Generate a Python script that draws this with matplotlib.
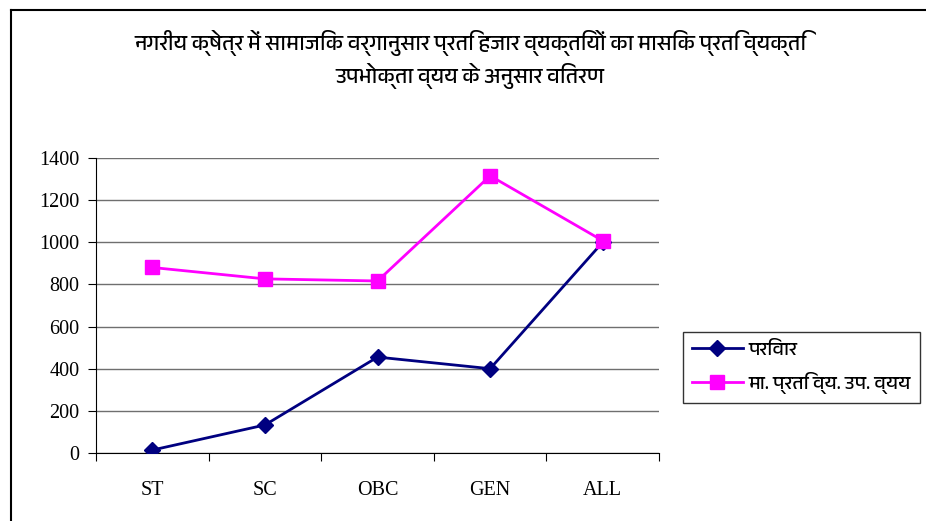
import matplotlib
matplotlib.use("Agg")
import matplotlib.pyplot as plt
from matplotlib import font_manager
from matplotlib.lines import Line2D

# श्रेणियाँ और मान
categories = ["ST", "SC", "OBC", "GEN", "ALL"]
parivar = [14, 133, 455, 400, 1000]
vyay = [880, 826, 816, 1315, 1007]
series_names = ["परिवार", "मा. प्रति व्य. उप. व्यय"]
yticks = [0, 200, 400, 600, 800, 1000, 1200, 1400]
title = ("नगरीय क्षेत्र में सामाजिक वर्गानुसार प्रति हजार व्यक्तियों का मासिक प्रति व्यक्ति\n"
         "उपभोक्ता व्यय के अनुसार वितरण")

deva = [f.name for f in font_manager.fontManager.ttflist if "Devanagari" in f.name]
hindi_fonts = deva + ["Noto Sans", "DejaVu Sans"]

fig = plt.figure(figsize=(9.26, 5.21), dpi=100)
ax = fig.add_axes([0.1037, 0.1305, 0.608, 0.5665])

x = list(range(len(categories)))
ax.plot(x, parivar, color="#000080", lw=2, marker="D", ms=8.5, zorder=3)
ax.plot(x, vyay, color="#FF00FF", lw=2, marker="s", ms=9.5, zorder=3)

ax.set_xlim(-0.5, len(categories) - 0.5)
ax.set_ylim(0, 1400)
ax.set_yticks(yticks)
ax.yaxis.grid(True, color="#6f6f6f", lw=1)
ax.set_axisbelow(True)
ax.set_xticks([i + 0.5 for i in range(-1, len(categories))], minor=False)
ax.set_xticklabels([])
ax.set_xticks(x, minor=True)
ax.set_xticklabels(categories, minor=True)
ax.tick_params(axis="x", which="major", direction="out", length=6, color="black")
ax.tick_params(axis="x", which="minor", length=0, pad=20)
ax.tick_params(axis="y", direction="out", length=6, pad=6)
for lab in ax.get_xticklabels(minor=True) + ax.get_yticklabels():
    lab.set_family("Liberation Serif")
    lab.set_fontsize(14.5)
for s in ["top", "right"]:
    ax.spines[s].set_visible(False)
ax.spines["left"].set_color("black")
ax.spines["bottom"].set_color("black")

fig.text(0.508, 0.885, title, ha="center", va="center", fontsize=15.5,
         family=hindi_fonts, linespacing=1.35)

handles = [Line2D([], [], color="#000080", lw=2, marker="D", ms=8.5),
           Line2D([], [], color="#FF00FF", lw=2, marker="s", ms=9.5)]
leg = fig.legend(handles, series_names, loc="center left",
                 bbox_to_anchor=(0.738, 0.295), frameon=True, fancybox=False,
                 edgecolor="black", prop={"family": hindi_fonts, "size": 14},
                 handlelength=2.6, handletextpad=0.3, borderpad=0.45,
                 labelspacing=0.75, borderaxespad=0)
leg.get_frame().set_linewidth(1)

# बाहरी किनारा
fig.add_artist(Line2D([0.012, 1.0], [0.981, 0.981], color="black", lw=1.5,
                      transform=fig.transFigure))
fig.add_artist(Line2D([0.012, 0.012], [0.0, 0.981], color="black", lw=1.5,
                      transform=fig.transFigure))

fig.savefig("out.png", dpi=100)
